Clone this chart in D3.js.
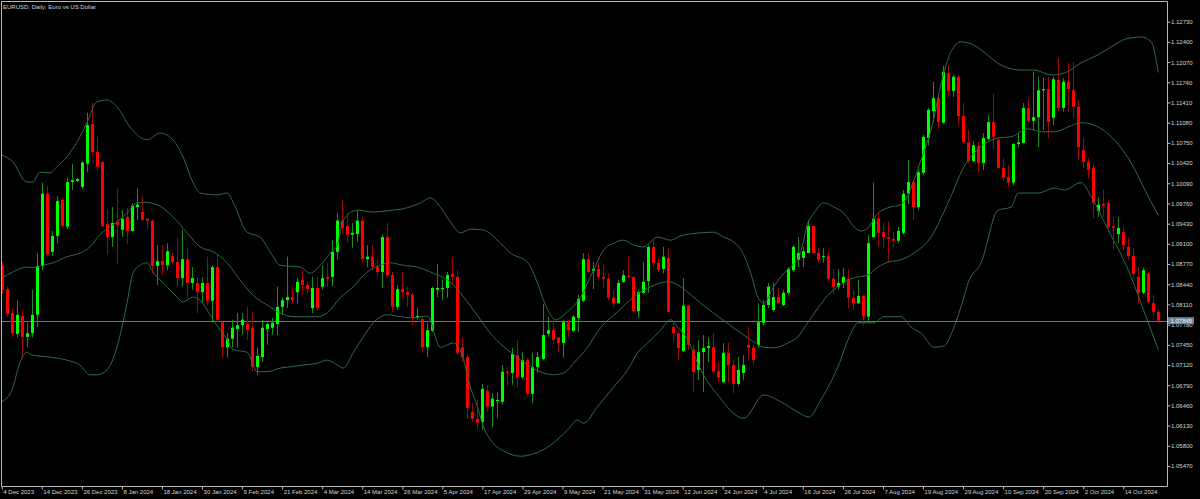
<!DOCTYPE html>
<html><head><meta charset="utf-8">
<script src="https://cdn.jsdelivr.net/npm/d3@7"></script>
<style>html,body{margin:0;padding:0;background:#000;overflow:hidden}svg{display:block}</style>
</head><body>
<svg id="chart" width="1200" height="499"></svg>
<script>
const title = "EURUSD, Daily: Euro vs US Dollar";
const opens = [1.0874,1.0836,1.0797,1.0763,1.0792,1.0758,1.0764,1.0794,1.0874,1.0992,1.0897,1.0923,1.0982,1.0938,1.1011,1.1013,1.1003,1.1041,1.1106,1.1060,1.1044,1.0942,1.0921,1.0946,1.0933,1.0954,1.0931,1.0970,1.0962,1.0951,1.0948,1.0874,1.0882,1.0875,1.0890,1.0880,1.0854,1.0885,1.0846,1.0846,1.0831,1.0846,1.0817,1.0872,1.0782,1.0741,1.0755,1.0771,1.0777,1.0779,1.0773,1.0709,1.0725,1.0771,1.0773,1.0779,1.0807,1.0818,1.0823,1.0831,1.0851,1.0843,1.0805,1.0838,1.0840,1.0856,1.0856,1.0897,1.0948,1.0939,1.0925,1.0926,1.0948,1.0885,1.0889,1.0872,1.0864,1.0921,1.0859,1.0807,1.0836,1.0831,1.0827,1.0789,1.0787,1.0741,1.0768,1.0835,1.0836,1.0838,1.0861,1.0856,1.0741,1.0725,1.0635,1.0624,1.0619,1.0670,1.0644,1.0653,1.0652,1.0701,1.0699,1.0728,1.0692,1.0720,1.0665,1.0709,1.0722,1.0763,1.0769,1.0757,1.0748,1.0782,1.0768,1.0789,1.0817,1.0885,1.0866,1.0869,1.0856,1.0853,1.0822,1.0813,1.0848,1.0858,1.0856,1.0800,1.0830,1.0849,1.0905,1.0879,1.0869,1.0887,1.0774,1.0764,1.0735,1.0809,1.0737,1.0704,1.0733,1.0740,1.0741,1.0702,1.0684,1.0732,1.0712,1.0681,1.0699,1.0745,1.0740,1.0745,1.0781,1.0810,1.0802,1.0823,1.0810,1.0830,1.0867,1.0884,1.0887,1.0895,1.0939,1.0895,1.0889,1.0890,1.0853,1.0840,1.0846,1.0853,1.0822,1.0813,1.0825,1.0791,1.0921,1.0952,1.0929,1.0921,1.0918,1.0915,1.0928,1.0992,1.1011,1.0970,1.1026,1.1083,1.1127,1.1148,1.1108,1.1189,1.1160,1.1183,1.1119,1.1076,1.1045,1.1070,1.1042,1.1081,1.1109,1.1080,1.1034,1.1019,1.1010,1.1073,1.1075,1.1132,1.1111,1.1117,1.1161,1.1163,1.1116,1.1178,1.1132,1.1175,1.1161,1.1134,1.1063,1.1044,1.1034,1.0964,1.0975,1.0977,1.0939,1.0926,1.0929,1.0905,1.0890,1.0856,1.0830,1.0862,1.0813,1.0799];
const highs = [1.0880,1.0840,1.0805,1.0818,1.0802,1.0781,1.0835,1.0895,1.1010,1.1005,1.0931,1.0988,1.0985,1.1018,1.1041,1.1018,1.1045,1.1124,1.1140,1.1085,1.1045,1.0967,1.0970,1.1000,1.0965,1.0969,1.0977,1.1001,1.0987,1.0952,1.0949,1.0908,1.0908,1.0911,1.0895,1.0920,1.0933,1.0903,1.0872,1.0856,1.0856,1.0889,1.0875,1.0892,1.0784,1.0764,1.0786,1.0797,1.0797,1.0807,1.0799,1.0741,1.0786,1.0782,1.0789,1.0840,1.0822,1.0889,1.0841,1.0854,1.0867,1.0848,1.0856,1.0856,1.0875,1.0879,1.0916,1.0960,1.0982,1.0960,1.0944,1.0965,1.0954,1.0908,1.0908,1.0884,1.0925,1.0944,1.0864,1.0843,1.0864,1.0840,1.0830,1.0805,1.0791,1.0781,1.0840,1.0877,1.0851,1.0864,1.0887,1.0867,1.0757,1.0728,1.0650,1.0655,1.0681,1.0679,1.0666,1.0667,1.0712,1.0709,1.0740,1.0753,1.0733,1.0724,1.0732,1.0733,1.0812,1.0791,1.0786,1.0758,1.0786,1.0786,1.0794,1.0827,1.0895,1.0895,1.0880,1.0879,1.0876,1.0862,1.0835,1.0851,1.0867,1.0889,1.0856,1.0835,1.0880,1.0907,1.0916,1.0887,1.0905,1.0903,1.0781,1.0769,1.0854,1.0810,1.0745,1.0753,1.0761,1.0757,1.0764,1.0717,1.0748,1.0748,1.0720,1.0725,1.0728,1.0774,1.0745,1.0813,1.0818,1.0846,1.0846,1.0838,1.0835,1.0872,1.0908,1.0921,1.0905,1.0949,1.0941,1.0903,1.0903,1.0897,1.0869,1.0869,1.0871,1.0869,1.0835,1.0851,1.0827,1.0925,1.1010,1.0962,1.0944,1.0946,1.0929,1.0938,1.0998,1.1047,1.1014,1.1031,1.1088,1.1132,1.1175,1.1157,1.1201,1.1202,1.1186,1.1186,1.1140,1.1096,1.1078,1.1076,1.1091,1.1121,1.1155,1.1085,1.1050,1.1039,1.1075,1.1091,1.1140,1.1148,1.1191,1.1183,1.1181,1.1183,1.1183,1.1214,1.1181,1.1206,1.1207,1.1145,1.1083,1.1050,1.1042,1.0987,1.0998,1.0982,1.0954,1.0954,1.0938,1.0920,1.0903,1.0872,1.0871,1.0864,1.0827,1.0802];
const lows = [1.0828,1.0791,1.0758,1.0757,1.0724,1.0741,1.0757,1.0774,1.0867,1.0889,1.0890,1.0911,1.0936,1.0934,1.0998,1.1011,1.1000,1.1027,1.1052,1.1031,1.0938,1.0892,1.0905,1.0877,1.0921,1.0910,1.0929,1.0949,1.0948,1.0934,1.0862,1.0843,1.0859,1.0867,1.0877,1.0840,1.0840,1.0822,1.0835,1.0797,1.0813,1.0810,1.0781,1.0782,1.0724,1.0724,1.0741,1.0741,1.0761,1.0753,1.0701,1.0696,1.0717,1.0745,1.0761,1.0761,1.0794,1.0805,1.0813,1.0813,1.0827,1.0830,1.0797,1.0802,1.0835,1.0840,1.0841,1.0884,1.0925,1.0913,1.0903,1.0913,1.0880,1.0872,1.0867,1.0856,1.0838,1.0856,1.0799,1.0802,1.0823,1.0807,1.0777,1.0786,1.0732,1.0725,1.0766,1.0823,1.0818,1.0822,1.0846,1.0728,1.0717,1.0625,1.0619,1.0608,1.0606,1.0635,1.0611,1.0625,1.0647,1.0678,1.0680,1.0675,1.0689,1.0660,1.0650,1.0699,1.0720,1.0758,1.0745,1.0733,1.0724,1.0758,1.0766,1.0766,1.0815,1.0862,1.0836,1.0853,1.0838,1.0818,1.0807,1.0813,1.0846,1.0854,1.0799,1.0789,1.0828,1.0830,1.0872,1.0864,1.0862,1.0799,1.0750,1.0720,1.0733,1.0737,1.0668,1.0688,1.0668,1.0717,1.0701,1.0683,1.0683,1.0684,1.0666,1.0678,1.0688,1.0720,1.0712,1.0740,1.0777,1.0805,1.0799,1.0813,1.0808,1.0826,1.0864,1.0872,1.0872,1.0895,1.0893,1.0880,1.0879,1.0848,1.0827,1.0835,1.0838,1.0805,1.0802,1.0812,1.0777,1.0781,1.0920,1.0905,1.0903,1.0880,1.0905,1.0911,1.0925,1.0975,1.0949,1.0965,1.1022,1.1071,1.1109,1.1098,1.1106,1.1150,1.1150,1.1104,1.1075,1.1042,1.1044,1.1026,1.1031,1.1080,1.1065,1.1032,1.1014,1.1003,1.1006,1.1068,1.1075,1.1108,1.1096,1.1068,1.1096,1.1083,1.1104,1.1126,1.1126,1.1126,1.1117,1.1047,1.1034,1.1018,1.0952,1.0954,1.0954,1.0936,1.0900,1.0911,1.0900,1.0884,1.0854,1.0813,1.0827,1.0813,1.0791,1.0781];
const closes = [1.0835,1.0796,1.0764,1.0794,1.0758,1.0764,1.0794,1.0874,1.0992,1.0893,1.0923,1.0980,1.0939,1.1011,1.1014,1.1016,1.1043,1.1104,1.1060,1.1036,1.0939,1.0921,1.0944,1.0941,1.0951,1.0931,1.0972,1.0974,1.0949,1.0948,1.0874,1.0882,1.0875,1.0898,1.0880,1.0854,1.0885,1.0846,1.0854,1.0831,1.0846,1.0817,1.0872,1.0786,1.0741,1.0755,1.0773,1.0777,1.0786,1.0769,1.0709,1.0727,1.0773,1.0779,1.0781,1.0807,1.0818,1.0823,1.0818,1.0848,1.0843,1.0836,1.0838,1.0805,1.0854,1.0853,1.0897,1.0948,1.0936,1.0925,1.0928,1.0948,1.0885,1.0889,1.0872,1.0864,1.0921,1.0859,1.0807,1.0836,1.0831,1.0827,1.0789,1.0792,1.0741,1.0769,1.0838,1.0838,1.0838,1.0859,1.0856,1.0732,1.0725,1.0642,1.0624,1.0618,1.0673,1.0644,1.0657,1.0655,1.0701,1.0699,1.0730,1.0692,1.0720,1.0665,1.0709,1.0725,1.0761,1.0769,1.0753,1.0748,1.0782,1.0769,1.0791,1.0820,1.0885,1.0864,1.0869,1.0856,1.0853,1.0822,1.0813,1.0846,1.0859,1.0856,1.0800,1.0831,1.0848,1.0905,1.0879,1.0867,1.0889,1.0799,1.0764,1.0740,1.0809,1.0745,1.0701,1.0733,1.0740,1.0743,1.0701,1.0692,1.0732,1.0712,1.0681,1.0704,1.0712,1.0740,1.0720,1.0782,1.0810,1.0840,1.0823,1.0813,1.0830,1.0869,1.0905,1.0895,1.0898,1.0939,1.0895,1.0884,1.0890,1.0853,1.0840,1.0846,1.0856,1.0822,1.0813,1.0825,1.0791,1.0911,1.0951,1.0928,1.0921,1.0918,1.0915,1.0931,1.0992,1.1011,1.0970,1.1027,1.1085,1.1129,1.1148,1.1109,1.1191,1.1160,1.1183,1.1119,1.1076,1.1045,1.1071,1.1042,1.1083,1.1109,1.1085,1.1034,1.1018,1.1010,1.1073,1.1076,1.1132,1.1111,1.1117,1.1161,1.1163,1.1109,1.1179,1.1132,1.1175,1.1163,1.1134,1.1068,1.1044,1.1031,1.0977,1.0974,1.0972,1.0938,1.0936,1.0936,1.0908,1.0890,1.0861,1.0830,1.0867,1.0815,1.0799,1.07845];
const dateLabels = ["4 Dec 2023","14 Dec 2023","26 Dec 2023","8 Jan 2024","18 Jan 2024","30 Jan 2024","9 Feb 2024","21 Feb 2024","4 Mar 2024","14 Mar 2024","26 Mar 2024","5 Apr 2024","17 Apr 2024","29 Apr 2024","9 May 2024","21 May 2024","31 May 2024","12 Jun 2024","24 Jun 2024","4 Jul 2024","16 Jul 2024","26 Jul 2024","7 Aug 2024","19 Aug 2024","29 Aug 2024","10 Sep 2024","20 Sep 2024","2 Oct 2024","14 Oct 2024"];
const dateLabelStep = 8;
const priceTicks = [1.12730,1.12400,1.12070,1.11740,1.11410,1.11080,1.10750,1.10420,1.10090,1.09760,1.09430,1.09100,1.08770,1.08440,1.08110,1.07780,1.07450,1.07120,1.06790,1.06460,1.06130,1.05800,1.05470];
const lastPrice = 1.07845;
// Bollinger bands: [bar index, price]
const bbUpper = [[0,1.1055],[2.2,1.1044],[5,1.1011],[6.2,1.1011],[7.6,1.1027],[9.6,1.1026],[11,1.1036],[13,1.1052],[15.6,1.1085],[17,1.1108],[19,1.1142],[21,1.1145],[23,1.1134],[25.6,1.1101],[29,1.1080],[31.6,1.1091],[34.2,1.1080],[36.2,1.1052],[38.2,1.1010],[39.6,1.0993],[43,1.0990],[45,1.0993],[46.2,1.0978],[49,1.0929],[51.6,1.0921],[53.6,1.0897],[55.6,1.0875],[59.6,1.0872],[61.6,1.0862],[63.6,1.0875],[65.6,1.0895],[67,1.0908],[68.2,1.0949],[71,1.0965],[74.2,1.0962],[77,1.0964],[81,1.0969],[83.6,1.0977],[85.6,1.0985],[87.6,1.0970],[89.6,1.0946],[91.6,1.0928],[93.6,1.0934],[96,1.0933],[99.6,1.0911],[101.6,1.0895],[105,1.0880],[107,1.0846],[108.2,1.0818],[109.6,1.0794],[110.6,1.0786],[113,1.0799],[115.6,1.0823],[118.2,1.0867],[120.2,1.0900],[122.2,1.0911],[124.2,1.0916],[126.2,1.0908],[128.2,1.0905],[131,1.0921],[133.6,1.0916],[135.6,1.0923],[139.6,1.0928],[142.2,1.0929],[144.2,1.0921],[146.2,1.0913],[148.2,1.0892],[149.6,1.0862],[151,1.0823],[152.2,1.0813],[154.2,1.0840],[156.2,1.0862],[157.6,1.0872],[159.6,1.0897],[161,1.0944],[162.2,1.0960],[164.2,1.0977],[166.2,1.0970],[168.2,1.0960],[170.2,1.0938],[171.6,1.0931],[173,1.0936],[175,1.0960],[177,1.0969],[179.6,1.0974],[182.2,1.1014],[183.6,1.1047],[185.6,1.1096],[188.2,1.1191],[189.6,1.1224],[191.6,1.1240],[193.6,1.1237],[195.6,1.1227],[199.6,1.1202],[203.6,1.1194],[206.2,1.1194],[209.6,1.1186],[212.2,1.1189],[215.6,1.1206],[219,1.1219],[221.6,1.1232],[224.6,1.1245],[227.6,1.1248],[229.6,1.1240],[231,1.1190]];
const bbMiddle = [[0,1.0854],[2.2,1.0864],[5,1.0872],[6.2,1.0871],[8.2,1.0875],[10.2,1.0879],[13,1.0889],[15.6,1.0895],[17.6,1.0905],[19.6,1.0925],[22.2,1.0941],[25,1.0960],[27,1.0977],[28.2,1.0978],[31,1.0974],[34.2,1.0954],[37,1.0928],[39.6,1.0905],[42.2,1.0897],[45,1.0879],[47.6,1.0851],[50.2,1.0826],[53,1.0810],[55.6,1.0797],[58.2,1.0791],[61,1.0791],[63,1.0791],[65,1.0797],[67.6,1.0822],[70.2,1.0840],[73,1.0864],[75.6,1.0875],[77.6,1.0879],[80.2,1.0875],[83,1.0872],[86.2,1.0862],[89,1.0851],[90.2,1.0843],[93,1.0815],[95.6,1.0786],[98.2,1.0758],[101,1.0737],[104.2,1.0717],[107.6,1.0701],[110.2,1.0696],[112.2,1.0699],[114.2,1.0715],[117,1.0741],[119.6,1.0773],[123,1.0799],[126.2,1.0823],[129.6,1.0840],[133,1.0848],[135.6,1.0840],[137.6,1.0827],[139.6,1.0813],[143,1.0792],[145.6,1.0776],[148.2,1.0761],[150.2,1.0750],[152.2,1.0741],[154.2,1.0740],[157,1.0748],[159,1.0758],[161,1.0781],[163,1.0805],[165,1.0826],[167,1.0840],[169,1.0851],[171,1.0856],[173,1.0859],[175,1.0872],[177,1.0880],[179.6,1.0884],[182.2,1.0895],[185.6,1.0921],[189,1.0977],[192.2,1.1036],[195.6,1.1069],[199,1.1083],[201.6,1.1085],[205,1.1098],[207.6,1.1093],[210.2,1.1093],[213,1.1101],[215.6,1.1108],[218.2,1.1104],[222.2,1.1080],[225.6,1.1042],[229,1.0987],[231,1.0957]];
const bbLower = [[0,1.0652],[2,1.0671],[3.6,1.0715],[5,1.0733],[6.2,1.0728],[9.6,1.0725],[13,1.0720],[15.6,1.0712],[17.6,1.0696],[19,1.0696],[21,1.0704],[23,1.0741],[24.2,1.0781],[25,1.0813],[26.2,1.0862],[27.6,1.0875],[29,1.0879],[30.2,1.0864],[33,1.0840],[35,1.0823],[36.2,1.0815],[38.2,1.0823],[39.6,1.0818],[42.2,1.0786],[45,1.0753],[46.2,1.0737],[49,1.0733],[51,1.0701],[53,1.0701],[55.6,1.0707],[57.6,1.0709],[60.2,1.0712],[63,1.0715],[65,1.0720],[67,1.0712],[68.2,1.0707],[70.2,1.0732],[72.2,1.0758],[74.2,1.0781],[77,1.0794],[79.6,1.0791],[82.2,1.0789],[85,1.0792],[87.6,1.0741],[90.2,1.0748],[91.6,1.0737],[93.6,1.0676],[95,1.0644],[96.2,1.0611],[97.6,1.0590],[100.6,1.0570],[103.6,1.0563],[106.6,1.0568],[109.6,1.0581],[113,1.0606],[115,1.0622],[116.2,1.0617],[119,1.0644],[122.2,1.0676],[125,1.0704],[127,1.0732],[129,1.0748],[131.6,1.0769],[133.6,1.0786],[135,1.0774],[137,1.0753],[139.6,1.0704],[143,1.0663],[148.2,1.0625],[152.2,1.0663],[155.6,1.0652],[159,1.0635],[161.2,1.0627],[163.6,1.0655],[167,1.0709],[169.6,1.0764],[171,1.0781],[174.2,1.0781],[176.2,1.0791],[179.6,1.0791],[181.6,1.0774],[183.6,1.0764],[186.2,1.0741],[188.2,1.0743],[190.2,1.0774],[192,1.0818],[193,1.0846],[195.6,1.0879],[199,1.0965],[201.6,1.0970],[203,1.0993],[207,1.0993],[210.2,1.1001],[212.2,1.0998],[215.6,1.1010],[217.6,1.0987],[221,1.0933],[225,1.0867],[229,1.0781],[231,1.0737]];

const FONT = "'Liberation Sans', Arial, sans-serif";
const TEXT = "#d4d4d4", FRAME = "#b8b8b8";
const plotRight = 1167.5, plotBottom = 486.5;

const svg = d3.select("#chart");
svg.append("rect").attr("width",1200).attr("height",499).attr("fill","#000");

const x = d3.scaleLinear().domain([0, opens.length - 1]).range([1.8, 1158.3]);
const y = d3.scaleLinear().domain([1.05470, 1.12730]).range([466, 21.7]);

svg.append("defs").append("clipPath").attr("id","plot")
  .append("rect").attr("x",2).attr("y",2).attr("width",plotRight-2).attr("height",plotBottom-2);

const plot = svg.append("g").attr("clip-path","url(#plot)");

// current price line
plot.append("line")
  .attr("x1",1.5).attr("x2",plotRight)
  .attr("y1",Math.round(y(lastPrice))+0.5).attr("y2",Math.round(y(lastPrice))+0.5)
  .attr("stroke","#66778a").attr("stroke-width",1);

const bars = opens.map((o,i)=>({i, o, h:highs[i], l:lows[i], c:closes[i]}));
const cg = plot.append("g");
const cx = d => Math.round(x(d.i));
cg.selectAll("line.wick").data(bars).join("line")
  .attr("class","wick")
  .attr("x1",d=>cx(d)+0.5).attr("x2",d=>cx(d)+0.5)
  .attr("y1",d=>y(d.h)).attr("y2",d=>y(d.l))
  .attr("stroke",d=>d.c>=d.o?"#1a8c1a":"#980808").attr("stroke-width",1);
cg.selectAll("rect.body").data(bars).join("rect")
  .attr("class","body")
  .attr("x",d=>cx(d)-1).attr("width",3)
  .attr("y",d=>y(Math.max(d.o,d.c)))
  .attr("height",d=>Math.max(1, Math.abs(y(d.o)-y(d.c))))
  .attr("fill",d=>d.c>=d.o?"#00ff00":"#ff0000");

// Bollinger bands
const band = d3.line().x(d=>x(d[0])).y(d=>y(d[1])).curve(d3.curveMonotoneX);
[bbUpper,bbMiddle,bbLower].forEach(b=>{
  plot.append("path").attr("d",band(b)).attr("fill","none")
    .attr("stroke","#2d6c45").attr("stroke-width",1);
});

// frame
svg.append("path")
  .attr("d",`M1.5,${plotBottom} V1.5 H${plotRight} V${plotBottom} H1.5`)
  .attr("fill","none").attr("stroke",FRAME).attr("stroke-width",1);

// title
svg.append("text").attr("x",3).attr("y",8.5).text(title)
  .attr("font-family",FONT).attr("font-size",6).attr("fill",TEXT);

// right price axis
const yAxis = d3.axisRight(y).tickValues(priceTicks).tickSize(3).tickPadding(0.5)
  .tickFormat(d3.format(".5f"));
const ya = svg.append("g").attr("transform",`translate(${plotRight},0)`).call(yAxis);
ya.select(".domain").remove();
ya.selectAll("line").attr("stroke",FRAME);
ya.selectAll("text").attr("fill",TEXT).attr("font-family",FONT).attr("font-size",6);

// bottom time axis
const xAxis = d3.axisBottom(x)
  .tickValues(d3.range(0, dateLabels.length*dateLabelStep, dateLabelStep))
  .tickSize(3).tickPadding(0)
  .tickFormat((d,k)=>dateLabels[k]);
const xa = svg.append("g").attr("transform",`translate(0,${plotBottom})`).call(xAxis);
xa.select(".domain").remove();
xa.selectAll("line").attr("stroke",FRAME);
xa.selectAll("text").attr("fill",TEXT).attr("font-family",FONT).attr("font-size",6)
  .attr("text-anchor","start").attr("x",1);

// price label
const py = y(lastPrice);
svg.append("rect").attr("x",plotRight+0.5).attr("y",py-3.5).attr("width",26).attr("height",7)
  .attr("fill","#6e8499");
svg.append("text").attr("x",plotRight+3).attr("y",py).attr("dy","0.35em")
  .text(d3.format(".5f")(lastPrice))
  .attr("font-family",FONT).attr("font-size",6).attr("fill","#eef2f6");
</script>
</body></html>
